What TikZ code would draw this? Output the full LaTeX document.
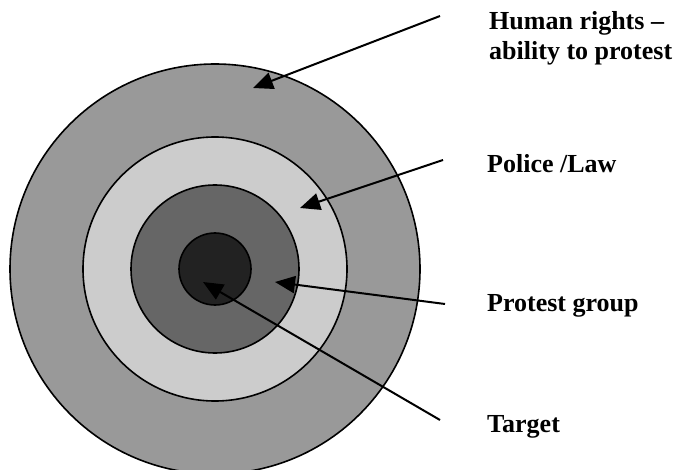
\documentclass[tikz,border=0pt]{standalone}
\usepackage{fontspec}
\setmainfont{Liberation Serif}
\usetikzlibrary{arrows.meta}

\tikzset{
  ring/.style={draw=black, line width=1.6pt},
  lbl/.style={anchor=west, inner sep=0pt, align=left, font=\fontsize{26}{30}\selectfont\bfseries},
  pointer/.style={line width=2pt, -{Triangle[length=20pt,width=17pt]}}
}

\begin{document}
\begin{tikzpicture}[x=1pt, y=-1pt]
    \useasboundingbox (0,0) rectangle (679,470);

    % Rings, outside in
    \coordinate (c) at (215,269);
    \draw[ring, fill={rgb,255:red,153;green,153;blue,153}] (c) circle (205pt);
    \draw[ring, fill={rgb,255:red,204;green,204;blue,204}] (c) circle (132pt);
    \draw[ring, fill={rgb,255:red,102;green,102;blue,102}] (c) circle (84pt);
    \draw[ring, fill={rgb,255:red,34;green,34;blue,34}] (c) circle (36pt);

    % Labels
    \node[lbl] (hr) at (489,38) {Human rights --\\ability to protest};
    \node[lbl] (pl) at (487,164) {Police /Law};
    \node[lbl] (pg) at (487,306) {Protest group};
    \node[lbl] (tg) at (487,427) {Target};

    % Free ends of the pointers
    \coordinate (hrs) at (440,16);
    \coordinate (pls) at (443,160);
    \coordinate (pgs) at (445,304);
    \coordinate (tgs) at (440,420);

    % Tips inside the rings
    \coordinate (hrt) at (253,88);
    \coordinate (plt) at (300,208);
    \coordinate (pgt) at (275,282);
    \coordinate (tgt) at (203,282);

    % Pointers
    \draw[pointer] (hrs) -- (hrt);
    \draw[pointer] (pls) -- (plt);
    \draw[pointer] (pgs) -- (pgt);
    \draw[pointer] (tgs) -- (tgt);
\end{tikzpicture}
\end{document}
